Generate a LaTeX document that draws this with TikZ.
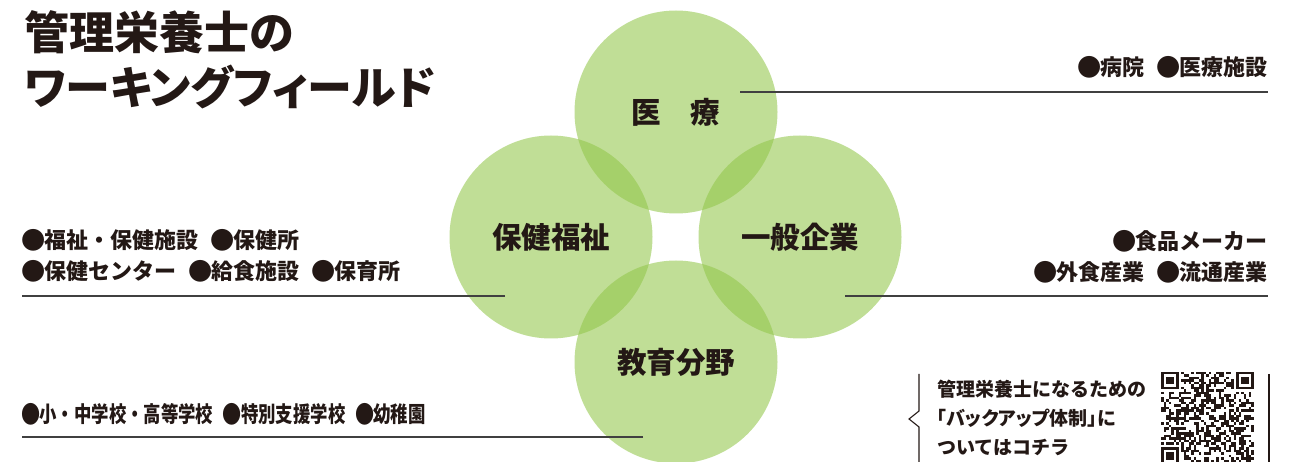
\documentclass[tikz,border=0pt]{standalone}
\usepackage{fontspec}
\usepackage{graphicx}
\setmainfont{Noto Sans CJK JP}
\newfontfamily\titlefont{Noto Sans CJK JP}[RawFeature=+palt]
\newfontfamily\paltfont{Noto Sans CJK JP}[RawFeature=+palt]
\definecolor{fieldgreen}{RGB}{146,198,74}
\definecolor{inkblack}{RGB}{35,24,21}
\newcommand\bul{\makebox[1em][c]{\raisebox{-0.035em}{\scalebox{1.1}{●}}}}
\newcommand\gap{\hspace{0.6em}}
\tikzset{
  field/.style={circle, fill=fieldgreen, fill opacity=0.58, text opacity=1, minimum size=203pt, inner sep=0pt,
    font=\fontsize{29.5}{32}\selectfont\bfseries, text=inkblack},
  heading/.style={inner sep=0pt, font=\titlefont\fontsize{45}{50}\selectfont\bfseries, text=inkblack},
  item/.style={inner sep=0pt, font=\fontsize{22}{26}\selectfont\bfseries, text=inkblack},
  note/.style={inner sep=0pt, font=\fontsize{19}{22}\selectfont\bfseries, text=inkblack},
  leader/.style={draw=black!75, line width=1.3pt},
  bracket/.style={draw=inkblack, line width=1.1pt},
}

\begin{document}
\begin{tikzpicture}[x=1pt, y=-1pt]
\path[use as bounding box] (0,0) rectangle (1310,462);
\clip (0,0) rectangle (1310,462);

% title
\node[heading, anchor=base west] (title1) at (24,50) {管理栄養士の};
\node[heading, anchor=base west] (title2) at (24,105) {ワーキングフィールド};

% four fields
\node[field] (iryo) at (676,112) {医　療};
\node[field] (fukushi) at (551,237) {保健福祉};
\node[field] (kigyo) at (800,237) {一般企業};
\node[field] (kyoiku) at (676,362) {教育分野};

% workplaces
\node[item, anchor=base east] (iryo-list) at (1268,76) {\bul 病院\gap\bul 医療施設};
\node[item, anchor=base west] (fukushi-list1) at (22,249) {\bul 福祉・保健施設\gap\bul 保健所};
\node[item, anchor=base west] (fukushi-list2) at (22,280) {\bul 保健センター\gap\bul 給食施設\gap\bul 保育所};
\node[item, anchor=base east] (kigyo-list1) at (1268,250) {\bul 食品メーカー};
\node[item, anchor=base east] (kigyo-list2) at (1268,281) {\bul 外食産業\gap\bul 流通産業};
\node[item, anchor=base west] (kyoiku-list) at (22,423)
  {\scalebox{0.79}[1]{\bul 小・中学校・高等学校\gap\bul 特別支援学校\gap\bul 幼稚園}};

% leader lines
\coordinate (iryo-a) at (740,92);    \coordinate (iryo-b) at (1268,92);
\coordinate (fukushi-a) at (505,296); \coordinate (fukushi-b) at (22,296);
\coordinate (kigyo-a) at (845,296);  \coordinate (kigyo-b) at (1268,296);
\coordinate (kyoiku-a) at (643,437); \coordinate (kyoiku-b) at (22,437);
\foreach \f in {iryo, fukushi, kigyo, kyoiku}
  \draw[leader] (\f-a) -- (\f-b);

% support note
\coordinate (note-top) at (919,374);
\coordinate (note-tip) at (909,419);
\coordinate (note-bot) at (919,462);
\draw[bracket] (note-top) -- (919,411) -- (note-tip) -- (919,427) -- (note-bot);
\draw[bracket] (1269,374) -- (1269,462);
\node[note, anchor=base west] (note1) at (937,396) {管理栄養士になるための};
\node[note, anchor=base west] (note2) at (937,425) {\paltfont「バックアップ体制」に};
\node[note, anchor=base west] (note3) at (937,454) {ついてはコチラ};

% qr code
\begin{scope}[shift={(1161,372)}, x=2.5pt, y=-2.5pt]
  \pgfmathsetseed{12}
  \foreach \i in {0,...,36}{
    \foreach \j in {0,...,36}{
      \pgfmathtruncatemacro\qron{((\i<8 && \j<8) || (\i>28 && \j<8) || (\i<8 && \j>28)) ? 0 : (rnd<0.5)}
      \ifnum\qron=1 \fill[inkblack] (\i,\j) rectangle ++(1,1); \fi
    }
  }
  \foreach \fx/\fy in {0/0, 30/0, 0/30}{
    \fill[inkblack] (\fx,\fy) rectangle ++(7,7);
    \fill[white] (\fx+1,\fy+1) rectangle ++(5,5);
    \fill[inkblack] (\fx+2,\fy+2) rectangle ++(3,3);
  }
\end{scope}
\end{tikzpicture}
\end{document}
